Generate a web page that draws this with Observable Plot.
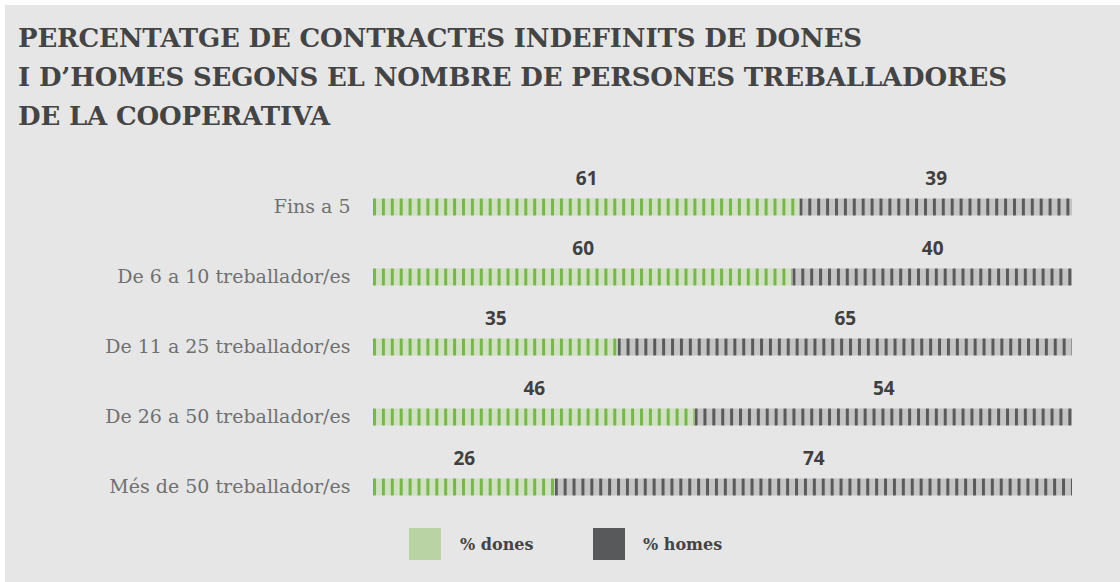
<!DOCTYPE html>
<html>
<head>
<meta charset="utf-8">
<script src="https://cdn.jsdelivr.net/npm/d3@7"></script>
<script src="https://cdn.jsdelivr.net/npm/@observablehq/plot@0.6"></script>
<style>
  html, body { margin: 0; padding: 0; background: #ffffff; }
  #panel { position: absolute; left: 5px; top: 5px; width: 1115px; height: 577px; background: #e6e6e6; overflow: hidden; }
  #title { position: absolute; left: 13px; top: 14px; margin: 0; font-family: "DejaVu Serif", serif; font-weight: bold; font-size: 26px; line-height: 39px; color: #444444; letter-spacing: -0.15px; }
  #chart { position: absolute; left: 0; top: 145px; }
  #legend { position: absolute; left: 0; top: 523px; width: 1115px; height: 32px; font-family: "DejaVu Serif", serif; font-weight: bold; font-size: 16px; color: #444444; }
  .sw { position: absolute; top: 0; width: 32px; height: 32px; }
  .lt { position: absolute; top: 7px; }
</style>
</head>
<body>
<div id="panel">
  <div id="title">PERCENTATGE DE CONTRACTES INDEFINITS DE DONES<br>I D’HOMES SEGONS EL NOMBRE DE PERSONES TREBALLADORES<br>DE LA COOPERATIVA</div>
  <div id="chart"></div>
  <div id="legend">
    <div class="sw" style="left:404px;background:#b9d3a4"></div><div class="lt" style="left:455px">% dones</div>
    <div class="sw" style="left:588px;background:#58595b"></div><div class="lt" style="left:638px">% homes</div>
  </div>
</div>
<script>
const categories = ["Fins a 5", "De 6 a 10 treballador/es", "De 11 a 25 treballador/es", "De 26 a 50 treballador/es", "Més de 50 treballador/es"];
const dones = [61, 60, 35, 46, 26];
const homes = [39, 40, 65, 54, 74];
const seriesNames = ["% dones", "% homes"];

const rows = [];
categories.forEach((c, i) => {
  rows.push({cat: c, serie: seriesNames[0], x1: 0, x2: dones[i], v: dones[i], i});
  rows.push({cat: c, serie: seriesNames[1], x1: dones[i], x2: dones[i] + homes[i], v: homes[i], i});
});

const step = 70;
const marginTop = 22;
const chart = Plot.plot({
  width: 1115,
  height: marginTop + step * categories.length + 2,
  marginLeft: 368,
  marginRight: 48,
  marginTop: marginTop,
  marginBottom: 2,
  style: {background: "transparent", fontFamily: "DejaVu Serif, serif"},
  x: {domain: [0, 100], axis: null},
  y: {domain: categories, padding: 0, label: null},
  marks: [
    Plot.axisY({tickSize: 0, tickPadding: 23, fontSize: 19, fill: "#707070", label: null, dy: -1}),
    Plot.barX(rows, {
      y: "cat", x1: "x1", x2: "x2",
      insetTop: 26.5, insetBottom: 26.5,
      fill: d => d.serie === seriesNames[0] ? "url(#pat-d)" : `url(#pat-h${d.i})`
    }),
    Plot.text(rows, {
      y: "cat", x: d => (d.x1 + d.x2) / 2, text: d => String(d.v),
      dy: -29, fontSize: 19, fontWeight: "bold", fill: "#404040",
      fontFamily: "Open Sans, sans-serif"
    })
  ]
});
document.getElementById("chart").appendChild(chart);

// stripe patterns (styling), aligned to each segment start via the x scale
const xs = chart.scale("x");
const ns = "http://www.w3.org/2000/svg";
const defs = document.createElementNS(ns, "defs");
function makePattern(id, x0, bg, fg) {
  const p = document.createElementNS(ns, "pattern");
  p.setAttribute("id", id);
  p.setAttribute("patternUnits", "userSpaceOnUse");
  p.setAttribute("x", x0);
  p.setAttribute("y", 0);
  p.setAttribute("width", 8.9);
  p.setAttribute("height", 100);
  const r1 = document.createElementNS(ns, "rect");
  r1.setAttribute("width", 8.9); r1.setAttribute("height", 100); r1.setAttribute("fill", bg);
  const r2 = document.createElementNS(ns, "rect");
  r2.setAttribute("width", 3); r2.setAttribute("height", 100); r2.setAttribute("fill", fg);
  p.appendChild(r1); p.appendChild(r2);
  defs.appendChild(p);
}
makePattern("pat-d", xs.apply(0), "#cfe1c0", "#79b54f");
dones.forEach((d, i) => makePattern(`pat-h${i}`, xs.apply(d), "#c4c4c4", "#5a5a5c"));
chart.insertBefore(defs, chart.firstChild);
</script>
</body>
</html>
